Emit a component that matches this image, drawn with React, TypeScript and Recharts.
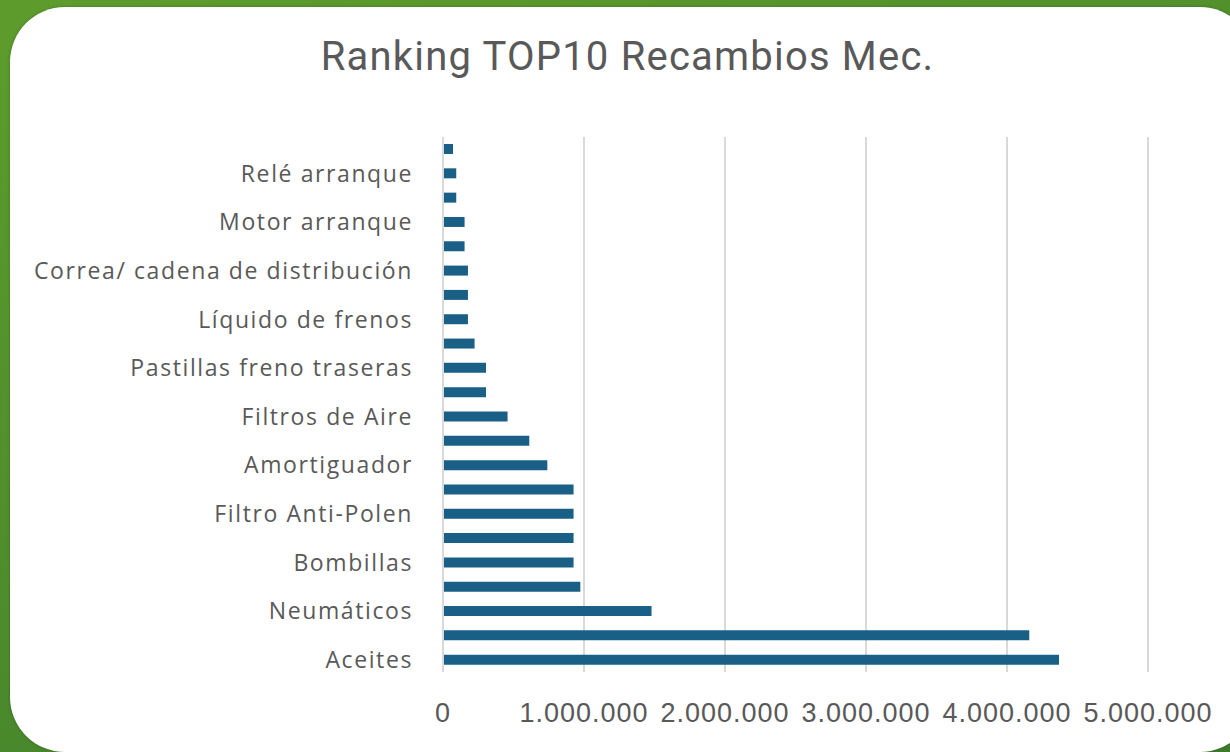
import React from 'react';
import { BarChart, Bar, XAxis, YAxis, CartesianGrid } from 'recharts';

// categories from bottom (first) to top (last); Excel only labels every other one
const categories = [
  'Aceites',
  'Filtros de aceite',
  'Neumáticos',
  'Escobillas',
  'Bombillas',
  'Baterías',
  'Filtro Anti-Polen',
  'Pastillas freno delanteras',
  'Amortiguador',
  'Discos de freno',
  'Filtros de Aire',
  'Filtro de combustible',
  'Pastillas freno traseras',
  'Anticongelante',
  'Líquido de frenos',
  'Bujías',
  'Correa/ cadena de distribución',
  'Kit embrague',
  'Motor arranque',
  'Alternador',
  'Relé arranque',
  'Sensores',
];

const values = [
  4369000, 4158000, 1479000, 974000, 926000, 926000, 926000, 926000, 740000, 612000, 458000,
  305000, 305000, 224000, 177000, 177000, 177000, 153000, 153000, 94000, 94000, 71000,
];

const xTicks = [0, 1000000, 2000000, 3000000, 4000000, 5000000];

const data = categories.map((name, i) => ({ name, value: values[i] }));

const fmt = (v: number) => (v === 0 ? '0' : v.toLocaleString('de-DE'));

export default function App() {
  return (
    <div
      style={{
        position: 'fixed',
        left: 0,
        top: 0,
        width: 1230,
        height: 752,
        overflow: 'hidden',
        background: 'linear-gradient(160deg, #5d9c2c 0%, #4f8e2b 45%, #3e7b2f 100%)',
      }}
    >
      <div
        style={{
          position: 'absolute',
          left: 10,
          top: 7,
          width: 1245,
          height: 745,
          borderRadius: 55,
          background: '#ffffff',
          boxShadow: '0 0 3px rgba(0,0,0,0.25)',
        }}
      />
      <div
        style={{
          position: 'absolute',
          left: 0,
          top: 34,
          width: 1255,
          textAlign: 'center',
          fontFamily: 'Roboto, sans-serif',
          fontSize: 40,
          letterSpacing: 1.2,
          lineHeight: '46px',
          color: '#595959',
        }}
      >
        Ranking TOP10 Recambios Mec.
      </div>
      <div style={{ position: 'absolute', left: 0, top: 0 }}>
        <BarChart
          width={1230}
          height={752}
          data={data}
          layout="vertical"
          margin={{ top: 137, right: 82, bottom: 40, left: 0 }}
          barSize={10}
        >
          <CartesianGrid horizontal={false} stroke="#d9d9d9" strokeWidth={2} />
          <XAxis
            type="number"
            domain={[0, 5000000]}
            ticks={xTicks}
            tickFormatter={fmt}
            axisLine={false}
            tickLine={false}
            tickSize={0}
            tickMargin={31}
            height={40}
            interval={0}
            tick={{
              fill: '#595959',
              fontSize: 27,
              letterSpacing: 1,
              fontFamily: 'Liberation Sans, Arial, sans-serif',
            }}
          />
          <YAxis
            type="category"
            dataKey="name"
            reversed
            width={443}
            interval={0}
            axisLine={{ stroke: '#d9d9d9', strokeWidth: 2 }}
            tickLine={false}
            tickSize={0}
            tickMargin={30}
            tickFormatter={(v: string, i: number) => (i % 2 === 0 ? v : '')}
            tick={{ fill: '#595959', fontSize: 23, fontFamily: 'Open Sans, sans-serif', letterSpacing: 1.6 }}
          />
          <Bar dataKey="value" fill="#1a6086" isAnimationActive={false} />
        </BarChart>
      </div>
    </div>
  );
}
